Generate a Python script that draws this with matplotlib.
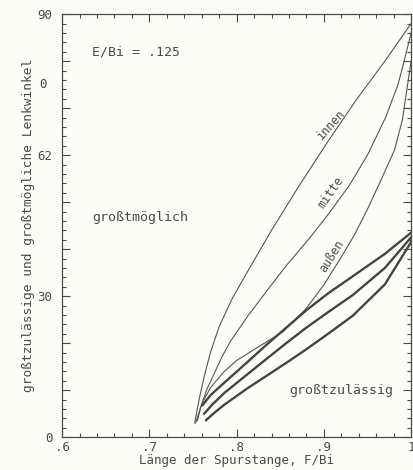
import matplotlib.pyplot as plt
from matplotlib.ticker import MultipleLocator
import matplotlib.transforms as mtransforms

plt.rcParams["font.family"] = ["DejaVu Sans Mono"]

# Kurven fuer groesstmoeglichen Lenkwinkel (duenn)
innen_x = [0.752, 0.757, 0.763, 0.770, 0.780, 0.795, 0.815, 0.840, 0.870, 0.905, 0.937, 0.970, 1.000]
innen_y = [3.0, 8.0, 13.0, 18.0, 23.5, 29.5, 36.0, 44.0, 53.0, 63.0, 71.7, 80.0, 88.0]
mitte_x = [0.755, 0.759, 0.766, 0.7745, 0.783, 0.793, 0.813, 0.835, 0.857, 0.883, 0.905, 0.929, 0.950, 0.971, 0.985, 0.992, 1.000]
mitte_y = [3.5, 6.4, 10.2, 13.6, 17.0, 20.4, 25.8, 31.2, 36.5, 42.2, 47.4, 53.5, 60.0, 68.1, 75.0, 80.0, 86.0]
aussen_x = [0.753, 0.760, 0.770, 0.785, 0.800, 0.825, 0.853, 0.880, 0.900, 0.918, 0.935, 0.950, 0.965, 0.981, 0.990, 1.000]
aussen_y = [3.0, 7.0, 10.5, 13.8, 16.3, 19.2, 22.4, 27.4, 32.4, 37.7, 43.0, 48.5, 54.5, 61.1, 67.5, 80.0]

# Kurven fuer groesstzulaessigen Lenkwinkel (dick)
zul1_x = [0.761, 0.770, 0.786, 0.8126, 0.834, 0.857, 0.880, 0.905, 0.933, 0.970, 1.000]
zul1_y = [6.8, 8.9, 11.6, 16.0, 19.6, 23.3, 27.0, 30.6, 34.2, 39.0, 43.5]
zul2_x = [0.763, 0.772, 0.786, 0.8126, 0.834, 0.857, 0.880, 0.905, 0.933, 0.970, 1.000]
zul2_y = [5.0, 6.9, 9.4, 13.4, 16.6, 20.0, 23.3, 26.6, 30.2, 36.0, 42.5]
zul3_x = [0.765, 0.774, 0.786, 0.8126, 0.834, 0.857, 0.880, 0.905, 0.933, 0.970, 1.000]
zul3_y = [3.6, 5.1, 6.9, 10.4, 13.0, 15.8, 18.7, 22.0, 25.8, 32.5, 41.5]

# Achsenbeschriftung wie im Scan
ytick_pos = [0, 30, 60, 90]
ytick_lab = ["0", "30", "62", "90"]
xtick_pos = [0.6, 0.7, 0.8, 0.9, 1.0]
xtick_lab = [".6", ".7", ".8", ".9", "1"]

ink = "#4a4a4a"
fig = plt.figure(figsize=(4.14, 4.70), dpi=100)
fig.patch.set_facecolor("#fdfdf8")
ax = fig.add_axes([0.150, 0.070, 0.843, 0.900])
ax.set_facecolor("#fdfdf8")

for xs, ys in [(innen_x, innen_y), (mitte_x, mitte_y), (aussen_x, aussen_y)]:
    ax.plot(xs, ys, color="#555555", lw=0.8)
for xs, ys in [(zul1_x, zul1_y), (zul2_x, zul2_y), (zul3_x, zul3_y)]:
    ax.plot(xs, ys, color="#444444", lw=1.7)

ax.set_xlim(0.6, 1.0)
ax.set_ylim(0, 90)
ax.set_xticks(xtick_pos)
ax.set_xticklabels(xtick_lab)
ax.xaxis.set_minor_locator(MultipleLocator(0.02))
ax.set_yticks(range(0, 91, 10))
ax.set_yticklabels([ytick_lab[ytick_pos.index(v)] if v in ytick_pos else "" for v in range(0, 91, 10)])
ax.yaxis.set_minor_locator(MultipleLocator(2))
ax.tick_params(which="both", direction="in", top=True, right=True, colors=ink,
               labelsize=9, width=0.8)
ax.tick_params(which="major", length=6)
ax.tick_params(which="minor", length=3)
ax.tick_params(axis="x", which="major", pad=3)
ax.tick_params(axis="y", which="major", pad=7)
for s in ax.spines.values():
    s.set_color(ink)
    s.set_linewidth(0.9)

# verwischte Beschriftung bei 75
trans = mtransforms.blended_transform_factory(ax.transAxes, ax.transData)
ax.text(-0.045, 75, "0", transform=trans, ha="right", va="center", fontsize=9, color=ink)

ax.text(0.634, 82, "E/Bi = .125", fontsize=9.5, color=ink, va="center")
ax.text(0.689, 46.8, "großtmöglich", fontsize=9.5, color=ink, ha="center", va="center")
ax.text(0.8606, 10, "großtzulässig", fontsize=9.5, color=ink, ha="left", va="center")
ax.text(0.9086, 66.5, "innen", fontsize=8.5, color=ink, ha="center", va="center", rotation=48)
ax.text(0.9074, 52.1, "mitte", fontsize=8.5, color=ink, ha="center", va="center", rotation=55)
ax.text(0.9086, 38.5, "außen", fontsize=8.5, color=ink, ha="center", va="center", rotation=58)

ax.set_xlabel("Länge der Spurstange, F/Bi", fontsize=9, color=ink, labelpad=0)
ax.set_ylabel("großtzulässige und großtmögliche Lenkwinkel", fontsize=9.3, color=ink, labelpad=2)

plt.savefig("out.png", dpi=100, facecolor=fig.get_facecolor())
